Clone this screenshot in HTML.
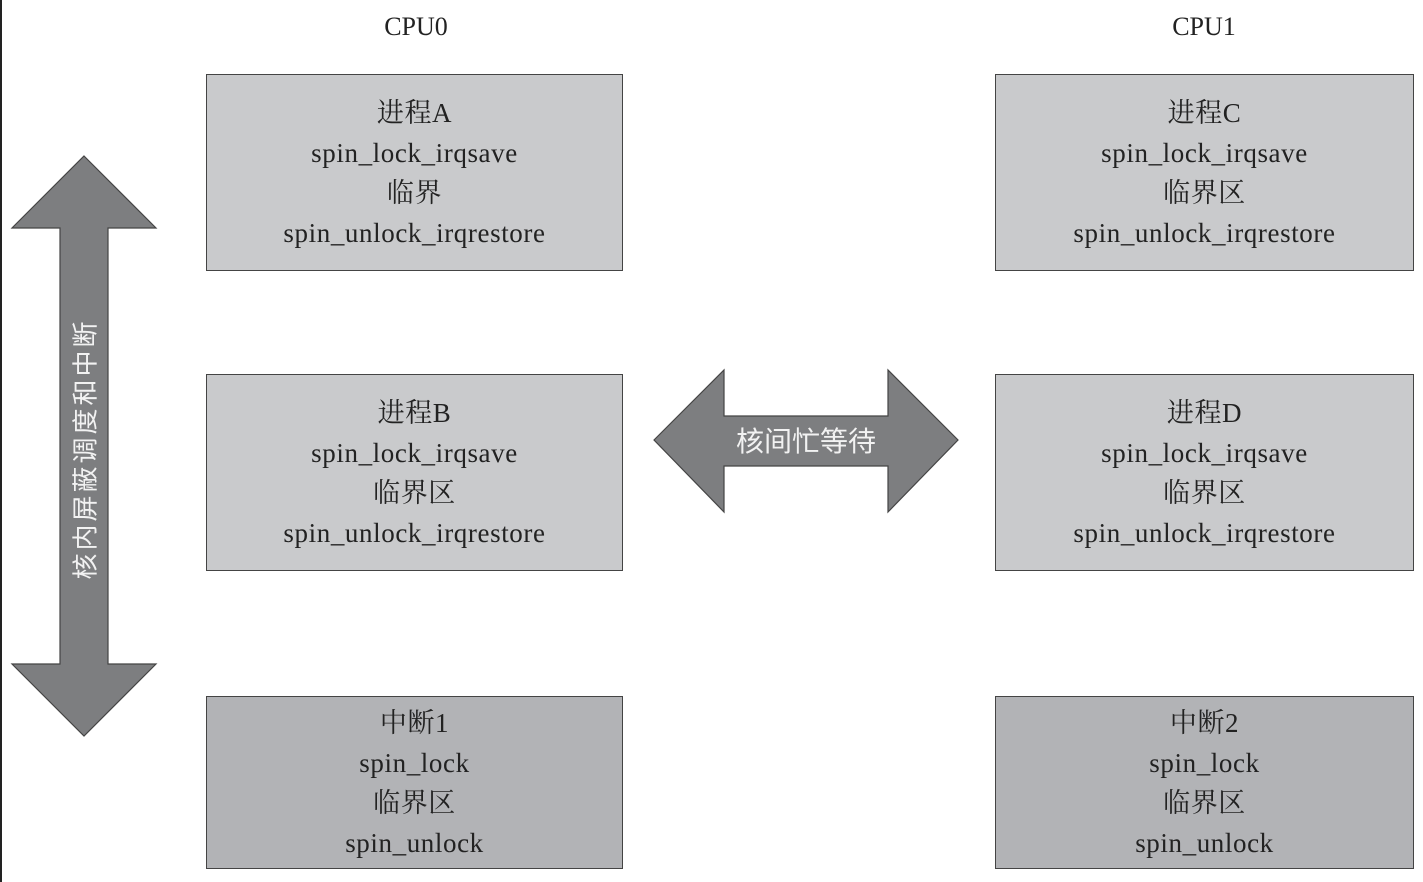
<!DOCTYPE html>
<html><head><meta charset="utf-8"><style>
body{margin:0;width:1423px;height:882px;background:#fff;position:relative;overflow:hidden;font-family:"Liberation Serif","Noto Serif CJK SC",serif;color:#222}
.edge{position:absolute;left:0;top:0;width:2px;height:882px;background:#222}
.box{position:absolute;box-sizing:border-box;border:1.5px solid #444;background:#c9cacc;display:flex;flex-direction:column;justify-content:center;align-items:center;font-size:27px;line-height:40px;letter-spacing:0.6px}
.dark{background:#b2b3b6}
.lbl{position:absolute;font-size:26px;width:200px;text-align:center}
.vt{position:absolute;left:84px;top:449px;transform:translate(-50%,-50%) rotate(-90deg);font-family:"Liberation Sans","Noto Sans CJK SC",sans-serif;font-size:26px;color:#f2f2f2;white-space:nowrap;letter-spacing:3px}
.ht{position:absolute;left:806px;top:440px;transform:translate(-50%,-50%);font-family:"Liberation Sans","Noto Sans CJK SC",sans-serif;font-size:28px;color:#f2f2f2;white-space:nowrap}
</style></head><body>
<div class="edge"></div>
<div class="lbl" style="left:316px;top:12px">CPU0</div>
<div class="lbl" style="left:1104px;top:12px">CPU1</div>
<svg width="1423" height="882" style="position:absolute;left:0;top:0">
<polygon points="84,156 156,228 108,228 108,664 156,664 84,736 12,664 60,664 60,228 12,228" fill="#7d7e80" stroke="#444" stroke-width="1.2"/>
<polygon points="654,440 724,370 724,416 888,416 888,370 958,440 888,512 888,466 724,466 724,512" fill="#7d7e80" stroke="#444" stroke-width="1.2"/>
</svg>
<div class="vt">核内屏蔽调度和中断</div>
<div class="ht">核间忙等待</div>
<div class="box" style="left:206px;top:74px;width:417px;height:197px"><div>进程A</div><div>spin_lock_irqsave</div><div>临界</div><div>spin_unlock_irqrestore</div></div>
<div class="box" style="left:206px;top:374px;width:417px;height:197px"><div>进程B</div><div>spin_lock_irqsave</div><div>临界区</div><div>spin_unlock_irqrestore</div></div>
<div class="box dark" style="left:206px;top:696px;width:417px;height:173px"><div>中断1</div><div>spin_lock</div><div>临界区</div><div>spin_unlock</div></div>
<div class="box" style="left:995px;top:74px;width:419px;height:197px"><div>进程C</div><div>spin_lock_irqsave</div><div>临界区</div><div>spin_unlock_irqrestore</div></div>
<div class="box" style="left:995px;top:374px;width:419px;height:197px"><div>进程D</div><div>spin_lock_irqsave</div><div>临界区</div><div>spin_unlock_irqrestore</div></div>
<div class="box dark" style="left:995px;top:696px;width:419px;height:173px"><div>中断2</div><div>spin_lock</div><div>临界区</div><div>spin_unlock</div></div>
</body></html>
